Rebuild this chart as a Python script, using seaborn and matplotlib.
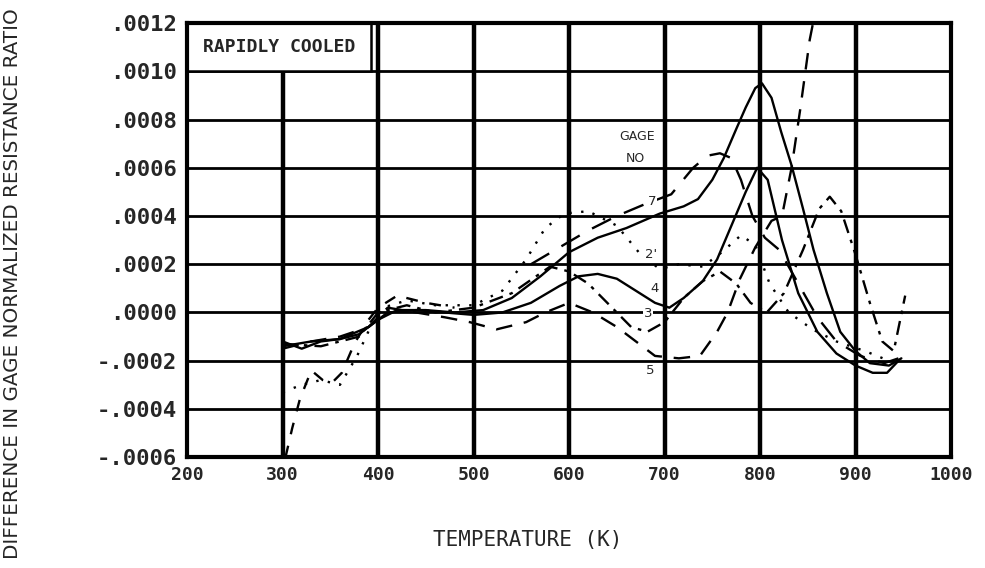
import numpy as np
import pandas as pd
import matplotlib
matplotlib.use("Agg")
import matplotlib.pyplot as plt
import seaborn as sns

# temperature (K) / resistance ratio difference
g7_t = [300, 320, 340, 360, 380, 400, 420, 450, 480, 510, 540, 570, 600, 630, 660, 695, 720, 735, 750, 762, 775, 785, 795, 802, 812, 822, 833, 845, 856, 870, 884, 900, 915, 935, 948]
g7_v = [-0.00012, -0.00015, -0.00012, -0.00011, -0.00009, -0.00003, 0.00001, 0.00001, 0.0, 0.00001, 0.00006, 0.00015, 0.00025, 0.00031, 0.00035, 0.00041, 0.00044, 0.00047, 0.00055, 0.00064, 0.00076, 0.00085, 0.00093, 0.00095, 0.00089, 0.00075, 0.00061, 0.00043, 0.00026, 0.00008, -0.00008, -0.00016, -0.00021, -0.00022, -0.00019]

g4_t = [300, 330, 360, 390, 410, 440, 470, 500, 530, 560, 590, 610, 630, 650, 670, 690, 705, 720, 740, 755, 770, 785, 797, 808, 823, 840, 860, 880, 900, 918, 933, 945]
g4_v = [-0.00014, -0.00012, -0.00011, -0.00006, 0.0, 0.00001, 0.0, -0.00001, 0.0, 0.00004, 0.00011, 0.00015, 0.00016, 0.00014, 0.00009, 0.00004, 0.00002, 0.00006, 0.00013, 0.00022, 0.00036, 0.0005, 0.0006, 0.00055, 0.0003, 0.00008, -0.00008, -0.00017, -0.00022, -0.00025, -0.00025, -0.0002]

g2_t = [560, 590, 620, 650, 680, 707, 730, 745, 758, 770, 780, 792, 805, 820, 840, 860, 880, 905, 930, 945]
g2_v = [0.0002, 0.00027, 0.00034, 0.0004, 0.00045, 0.00049, 0.0006, 0.00065, 0.00066, 0.00064, 0.00055, 0.0004, 0.00031, 0.00026, 0.00012, -0.00002, -0.00012, -0.00018, -0.00021, -0.00019]

g5_t = [300, 330, 360, 390, 410, 440, 470, 496, 524, 555, 575, 600, 625, 650, 670, 690, 715, 737, 755, 766, 779, 795, 812, 823, 833, 842, 852, 858]
g5_v = [-0.00015, -0.00012, -0.0001, -0.00006, 0.00002, 0.0, -0.00002, -0.00004, -0.00007, -0.00004, 0.0, 0.00004, 0.0, -0.00006, -0.00012, -0.00018, -0.00019, -0.00018, -0.00008, 0.0, 0.00014, 0.00027, 0.00038, 0.0004, 0.0006, 0.00084, 0.00113, 0.00125]

g3_t = [300, 340, 380, 400, 430, 460, 500, 540, 580, 600, 620, 645, 665, 682, 700, 720, 740, 758, 775, 790, 807, 825, 845, 862, 873, 885, 900, 915, 928, 940, 952]
g3_v = [-0.00013, -0.00014, -0.0001, 0.0, 0.00003, 0.0, 0.00002, 0.00008, 0.00019, 0.00017, 0.00012, 0.00002, -0.00006, -0.00008, -0.00004, 0.00006, 0.00013, 0.00017, 0.00012, 0.00004, 0.0, 0.00008, 0.00026, 0.00043, 0.00048, 0.00042, 0.00024, 0.00004, -0.00012, -0.00016, 0.00007]

g1_t = [300, 320, 340, 360, 378, 392, 405, 430, 460, 500, 530, 555, 575, 595, 620, 650, 675, 695, 715, 740, 760, 780, 795, 810, 830, 855, 880, 910, 935]
g1_v = [-0.00033, -0.0003, -0.00028, -0.0003, -0.00018, -0.00006, 0.00002, 0.00005, 0.00003, 0.00003, 0.00009, 0.00022, 0.00035, 0.00041, 0.00042, 0.00036, 0.00024, 0.00018, 0.0002, 0.00019, 0.00025, 0.00032, 0.00028, 0.00012, 0.0, -0.00007, -0.00012, -0.00016, -0.0002]

g6_t = [303, 310, 318, 330, 342, 352, 362, 375, 390, 400, 420, 450, 480]
g6_v = [-0.0006, -0.00048, -0.00036, -0.00024, -0.00028, -0.00029, -0.00025, -0.00013, -0.00003, 0.00002, 0.00007, 0.00004, 0.00002]

curves = [
    (g7_t, g7_v, "-"),
    (g4_t, g4_v, "-"),
    (g2_t, g2_v, (0, (9, 6))),
    (g5_t, g5_v, (0, (7, 5))),
    (g3_t, g3_v, (0, (6, 3, 1.5, 3))),
    (g1_t, g1_v, (0, (1, 4))),
    (g6_t, g6_v, (0, (5, 5))),
]

gage_labels = ["7", "2'", "4", "3", "5"]
gage_label_t = [687, 686, 690, 683, 685]
gage_label_v = [0.00046, 0.00024, 0.0001, -0.000005, -0.00024]

x_ticks = [200, 300, 400, 500, 600, 700, 800, 900, 1000]
y_ticks = [-0.0006, -0.0004, -0.0002, 0.0, 0.0002, 0.0004, 0.0006, 0.0008, 0.0010, 0.0012]
y_tick_labels = ["-.0006", "-.0004", "-.0002", ".0000", ".0002", ".0004", ".0006", ".0008", ".0010", ".0012"]

sns.set_style("white")
plt.rcParams["font.family"] = ["DejaVu Sans"]

fig = plt.figure(figsize=(9.85, 5.68), dpi=100)
ax = fig.add_axes([0.190, 0.195, 0.7755, 0.7645])

for xv in x_ticks[1:-1]:
    ax.axvline(xv, color="black", lw=3.2, zorder=1)
for yv in y_ticks[1:-1]:
    ax.axhline(yv, color="black", lw=2.0, zorder=1)

for t, v, ls in curves:
    df = pd.DataFrame({"T": t, "V": v})
    sns.lineplot(data=df, x="T", y="V", ax=ax, color="black", linestyle=ls,
                 linewidth=1.7, sort=False, zorder=3)

ax.set_xlim(200, 1000)
ax.set_ylim(-0.0006, 0.0012)
ax.set_xticks(x_ticks)
ax.set_xticklabels([str(x) for x in x_ticks], family="DejaVu Sans Mono",
                   fontsize=13, fontweight="bold")
ax.set_yticks(y_ticks)
ax.set_yticklabels(y_tick_labels, family="DejaVu Sans Mono", fontsize=16,
                   fontweight="bold")
ax.tick_params(axis="y", direction="out", length=6, width=1.5, pad=1)
ax.tick_params(axis="x", length=0, pad=6)
ax.set_xlabel("")
ax.set_ylabel("")
for s in ax.spines.values():
    s.set_linewidth(3.0)
    s.set_color("black")

# label box in the top-left cell, blanking the grid behind it
ax.axvspan(200, 393, ymin=0.8889, ymax=1.0, fc="white", ec="black", lw=1.8, zorder=2)
ax.text(296, 0.00110, "RAPIDLY COOLED", family="DejaVu Sans Mono", fontsize=13,
        fontweight="bold", va="center", ha="center", zorder=5)

ax.text(671, 0.00073, "GAGE", fontsize=9, ha="center", va="center", zorder=5)
ax.text(669, 0.00064, "NO", fontsize=9, ha="center", va="center", zorder=5)
for lab, t, v in zip(gage_labels, gage_label_t, gage_label_v):
    ax.text(t, v, lab, fontsize=9.5, ha="center", va="center", zorder=5,
            bbox=dict(fc="white", ec="none", pad=0.5))

fig.text(0.536, 0.049, "TEMPERATURE (K)", family="DejaVu Sans Mono", fontsize=15,
         ha="center", va="center")
fig.text(0.013, 0.5, "DIFFERENCE IN GAGE NORMALIZED RESISTANCE RATIO", fontsize=14.3,
         rotation=90, ha="center", va="center")

fig.savefig("out.png", dpi=100)
